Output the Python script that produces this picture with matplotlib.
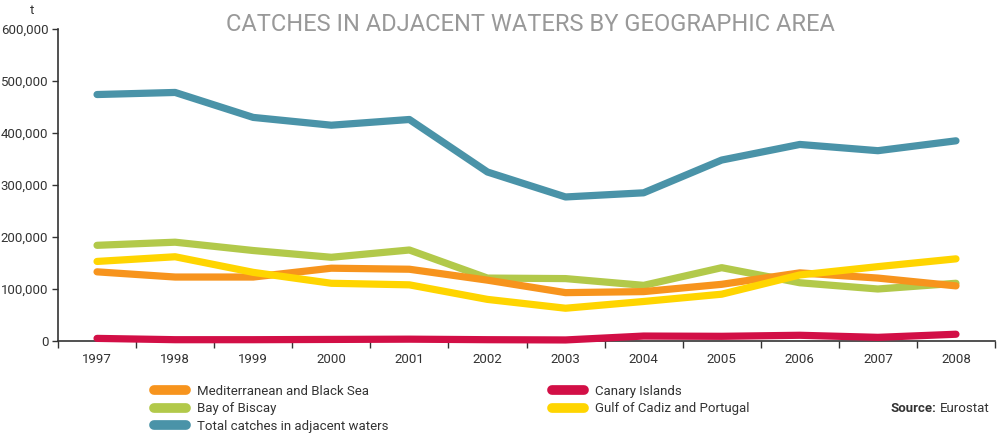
import matplotlib
matplotlib.use("Agg")
import matplotlib.pyplot as plt
from matplotlib.ticker import FuncFormatter, FixedLocator
import numpy as np

years = ["1997", "1998", "1999", "2000", "2001", "2002", "2003", "2004", "2005", "2006", "2007", "2008"]
mediterranean = [133000, 123000, 123000, 140000, 138000, 117000, 93000, 95000, 109000, 131000, 121000, 106000]
canary = [5000, 2500, 2500, 3000, 3500, 2500, 2000, 9500, 9000, 11000, 7000, 13000]
biscay = [184000, 190000, 174000, 161000, 175000, 121000, 120000, 107000, 141000, 112000, 100000, 111000]
cadiz = [153000, 162000, 132000, 111000, 108000, 80000, 63000, 76000, 90000, 127000, 143000, 158000]
total = [474000, 478000, 430000, 415000, 426000, 325000, 277000, 285000, 348000, 378000, 366000, 385000]

labels = ["Mediterranean and Black Sea", "Canary Islands", "Bay of Biscay",
          "Gulf of Cadiz and Portugal", "Total catches in adjacent waters"]
colors = {"med": "#F7941D", "can": "#D20F46", "bis": "#B2C94A", "cad": "#FFD500", "tot": "#4A93A8"}

plt.rcParams['font.family'] = ['Roboto', 'DejaVu Sans']
txt = "#333333"

fig = plt.figure(figsize=(10, 4.37), dpi=100)
ax = fig.add_axes([0.058, 0.2197, 0.937, 0.7139])

x = np.arange(len(years))
lw = 5.2
kw = dict(linewidth=lw, solid_capstyle='round', solid_joinstyle='round')
l_bis, = ax.plot(x, biscay, color=colors["bis"], label=labels[2], zorder=2, **kw)
l_med, = ax.plot(x, mediterranean, color=colors["med"], label=labels[0], zorder=3, **kw)
l_cad, = ax.plot(x, cadiz, color=colors["cad"], label=labels[3], zorder=4, **kw)
l_tot, = ax.plot(x, total, color=colors["tot"], label=labels[4], zorder=5, **kw)
l_can, = ax.plot(x, canary, color=colors["can"], label=labels[1], zorder=6, **kw)

ax.set_xlim(-0.5, len(years) - 0.5)
ax.set_ylim(0, 600000)
ax.xaxis.set_major_locator(FixedLocator(np.arange(-0.5, len(years), 1.0)))
ax.xaxis.set_major_formatter(FuncFormatter(lambda v, p: ""))
ax.xaxis.set_minor_locator(FixedLocator(x))
ax.set_xticklabels(years, minor=True)
ax.tick_params(axis='x', which='major', length=5, width=1, color=txt, direction='out')
ax.tick_params(axis='x', which='minor', length=0, pad=9, labelsize=9.5, labelcolor=txt)
ax.set_yticks(np.arange(0, 600001, 100000))
ax.yaxis.set_major_formatter(FuncFormatter(lambda v, p: f"{int(v):,}"))
ax.tick_params(axis='y', length=4, width=1, color=txt, labelsize=9.5, labelcolor=txt, pad=3)

for s in ["top", "right"]:
    ax.spines[s].set_visible(False)
for s in ["left", "bottom"]:
    ax.spines[s].set_color(txt)
    ax.spines[s].set_linewidth(1.2)
for l in ax.get_lines():
    l.set_clip_on(False)

fig.text(0.032, 0.975, "t", ha='center', va='center', fontsize=9.5, color=txt)
fig.text(0.53, 0.945, "CATCHES IN ADJACENT WATERS BY GEOGRAPHIC AREA", ha='center', va='center',
         fontsize=17, color="#999999")

leg_kw = dict(frameon=False, handlelength=2.5, handletextpad=0.8, labelspacing=0.35,
              fontsize=9.5, loc='upper left', borderaxespad=0, borderpad=0, labelcolor=txt)
leg1 = fig.legend([l_med, l_bis, l_tot], [labels[0], labels[2], labels[4]],
                  bbox_to_anchor=(0.1535, 0.120), **leg_kw)
leg2 = fig.legend([l_can, l_cad], [labels[1], labels[3]],
                  bbox_to_anchor=(0.5515, 0.120), **leg_kw)
for lg in (leg1, leg2):
    for h in lg.legend_handles:
        h.set_linewidth(7)
        h.set_solid_capstyle('round')

fig.text(0.990, 0.066, "Eurostat", ha='right', va='center', fontsize=9.5, color=txt)
fig.text(0.936, 0.066, "Source:", ha='right', va='center', fontsize=9.5, color=txt, fontweight='bold')

fig.savefig("out.png", dpi=100)
